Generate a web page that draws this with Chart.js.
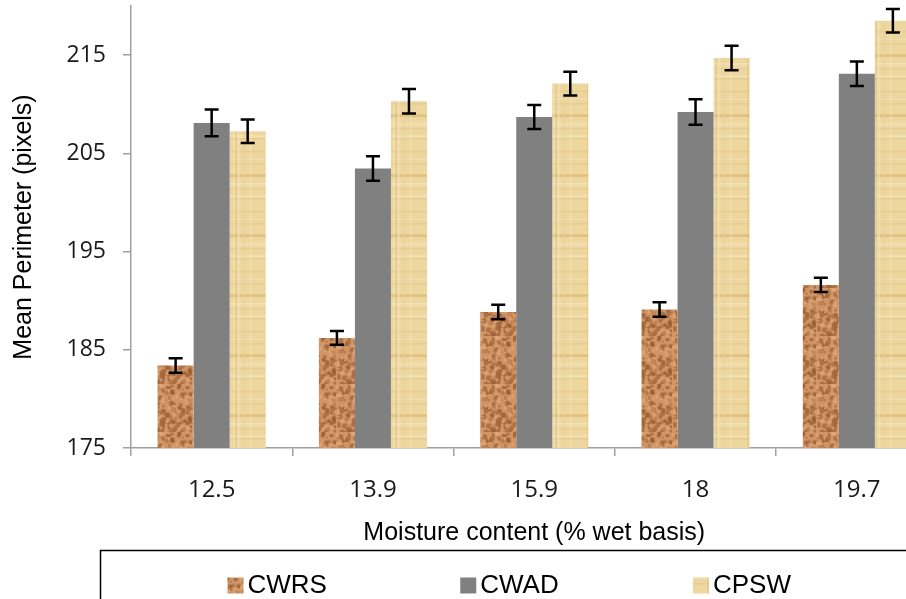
<!DOCTYPE html>
<html>
<head>
<meta charset="utf-8">
<script src="https://cdn.jsdelivr.net/npm/chart.js@4.4.1/dist/chart.umd.min.js"></script>
<style>
  html, body { margin: 0; padding: 0; background: #fff; overflow: hidden; }
  #wrap { width: 950px; height: 620px; }
</style>
</head>
<body>
<div id="wrap"><canvas id="perimeter"></canvas></div>
<script>
// moisture content (% wet basis)
const categories = ['12.5', '13.9', '15.9', '18', '19.7']
const seriesNames = ['CWRS', 'CWAD', 'CPSW']
const cwrs = [183.4, 186.2, 188.85, 189.1, 191.6]
const cwad = [208.1, 203.45, 208.7, 209.2, 213.1]
const cpsw = [207.25, 210.3, 212.1, 214.7, 218.5]
const cwrsErr = [0.75, 0.7, 0.73, 0.73, 0.73]
const cwadErr = [1.35, 1.25, 1.22, 1.3, 1.25]
const cpswErr = [1.2, 1.25, 1.2, 1.25, 1.2]
const yTicks = [175, 185, 195, 205, 215]

const canvas = document.getElementById('perimeter')
const ctx = canvas.getContext('2d')

// small deterministic hash for the fill textures
function hash(n) {
    const s = Math.sin(n * 12.9898 + 78.233) * 43758.5453
    return s - Math.floor(s)
}

function granite() {
    const t = document.createElement('canvas')
    t.width = 48; t.height = 48
    const g = t.getContext('2d')
    g.fillStyle = '#cf9566'
    g.fillRect(0, 0, 48, 48)
    for (let i = 0; i < 260; i++) {
        const x = hash(i) * 48, y = hash(i + 500) * 48
        const r = 0.8 + hash(i + 1000) * 2
        const k = hash(i + 1500)
        g.fillStyle = k < 0.45 ? 'rgba(150,88,45,0.55)' : (k < 0.75 ? 'rgba(226,170,120,0.6)' : 'rgba(170,105,60,0.45)')
        g.beginPath()
        g.arc(x, y, r, 0, Math.PI * 2)
        g.fill()
    }
    return ctx.createPattern(t, 'repeat')
}

function papyrus() {
    const t = document.createElement('canvas')
    t.width = 40; t.height = 60
    const g = t.getContext('2d')
    g.fillStyle = '#eed79f'
    g.fillRect(0, 0, 40, 60)
    for (let i = 0; i < 14; i++) {
        const y = hash(i + 200) * 60
        g.fillStyle = hash(i + 300) < 0.5 ? 'rgba(250,236,196,0.5)' : 'rgba(214,180,110,0.3)'
        g.fillRect(0, y, 40, 1 + hash(i + 400) * 2)
    }
    for (let i = 0; i < 8; i++) {
        const x = hash(i + 600) * 40
        g.fillStyle = hash(i + 700) < 0.5 ? 'rgba(250,238,200,0.45)' : 'rgba(210,176,108,0.25)'
        g.fillRect(x, 0, 1 + hash(i + 800) * 2, 60)
    }
    return ctx.createPattern(t, 'repeat')
}

const fills = [granite(), '#808080', papyrus()]
const errors = [cwrsErr, cwadErr, cpswErr]

const errorBars = {
    id: 'errorBars',
    afterDatasetsDraw(chart) {
        const y = chart.scales.y
        const c = chart.ctx
        c.save()
        c.strokeStyle = '#000'
        c.lineWidth = 2.5
        chart.data.datasets.forEach((ds, d) => {
            chart.getDatasetMeta(d).data.forEach((bar, i) => {
                const v = ds.data[i], e = errors[d][i]
                const top = y.getPixelForValue(v + e)
                const bot = y.getPixelForValue(v - e)
                c.beginPath()
                c.moveTo(bar.x, top); c.lineTo(bar.x, bot)
                c.moveTo(bar.x - 7, top); c.lineTo(bar.x + 7, top)
                c.moveTo(bar.x - 7, bot); c.lineTo(bar.x + 7, bot)
                c.stroke()
            })
        })
        c.restore()
    }
}

const boxLegend = {
    id: 'boxLegend',
    afterDraw(chart) {
        const c = chart.ctx
        const left = 100, top = 550
        c.save()
        c.strokeStyle = '#000'
        c.lineWidth = 1.5
        c.strokeRect(left + 0.5, top + 0.5, 900, 120)
        c.font = '26px "Liberation Sans", Arial, sans-serif'
        c.textBaseline = 'alphabetic'
        c.textAlign = 'left'
        chart.data.datasets.forEach((ds, i) => {
            const x = left + 127.5 + i * 232.75
            c.fillStyle = ds.backgroundColor
            c.fillRect(x, 577.5, 16, 16)
            c.fillStyle = '#000'
            c.fillText(ds.label, x + 20, 592.5)
        })
        c.restore()
    }
}

new Chart(canvas, {
    type: 'bar',
    data: {
        labels: categories,
        datasets: [cwrs, cwad, cpsw].map((vals, i) => ({
            label: seriesNames[i],
            data: vals,
            backgroundColor: fills[i],
            borderWidth: 0,
            categoryPercentage: 0.67,
            barPercentage: 1
        }))
    },
    options: {
        responsive: true,
        maintainAspectRatio: false,
        animation: false,
        layout: { padding: { top: 6, right: 12.5, bottom: 72, left: 0 } },
        plugins: {
            legend: { display: false },
            tooltip: { enabled: false }
        },
        scales: {
            x: {
                afterFit: s => { s.height = 100; s.paddingLeft = 0; s.paddingRight = 0 },
                grid: { drawOnChartArea: false, drawTicks: true, tickLength: 8, color: '#a0a0a0', lineWidth: 1.5 },
                border: { color: '#a0a0a0', width: 1.5 },
                ticks: { color: '#1a1a1a', padding: 20, font: { family: '"Open Sans", sans-serif', size: 24 } },
                title: {
                    display: true,
                    text: 'Moisture content (% wet basis)',
                    color: '#000',
                    padding: { top: 0.5, bottom: 0 },
                    font: { family: '"Liberation Sans", Arial, sans-serif', size: 25 }
                }
            },
            y: {
                min: 175,
                max: 220,
                afterFit: s => { s.width = 131; s.paddingTop = 0; s.paddingBottom = 0 },
                afterBuildTicks: s => { s.ticks = yTicks.map(v => ({ value: v })) },
                grid: { drawOnChartArea: false, drawTicks: true, tickLength: 8, color: '#a0a0a0', lineWidth: 1.5 },
                border: { color: '#a0a0a0', width: 1.5 },
                ticks: { color: '#1a1a1a', padding: 17, font: { family: '"Open Sans", sans-serif', size: 23 } },
                title: {
                    display: true,
                    text: 'Mean Perimeter (pixels)',
                    color: '#000',
                    padding: { top: 9, bottom: 0 },
                    font: { family: '"Liberation Sans", Arial, sans-serif', size: 25 }
                }
            }
        }
    },
    plugins: [errorBars, boxLegend]
})
</script>
</body>
</html>
